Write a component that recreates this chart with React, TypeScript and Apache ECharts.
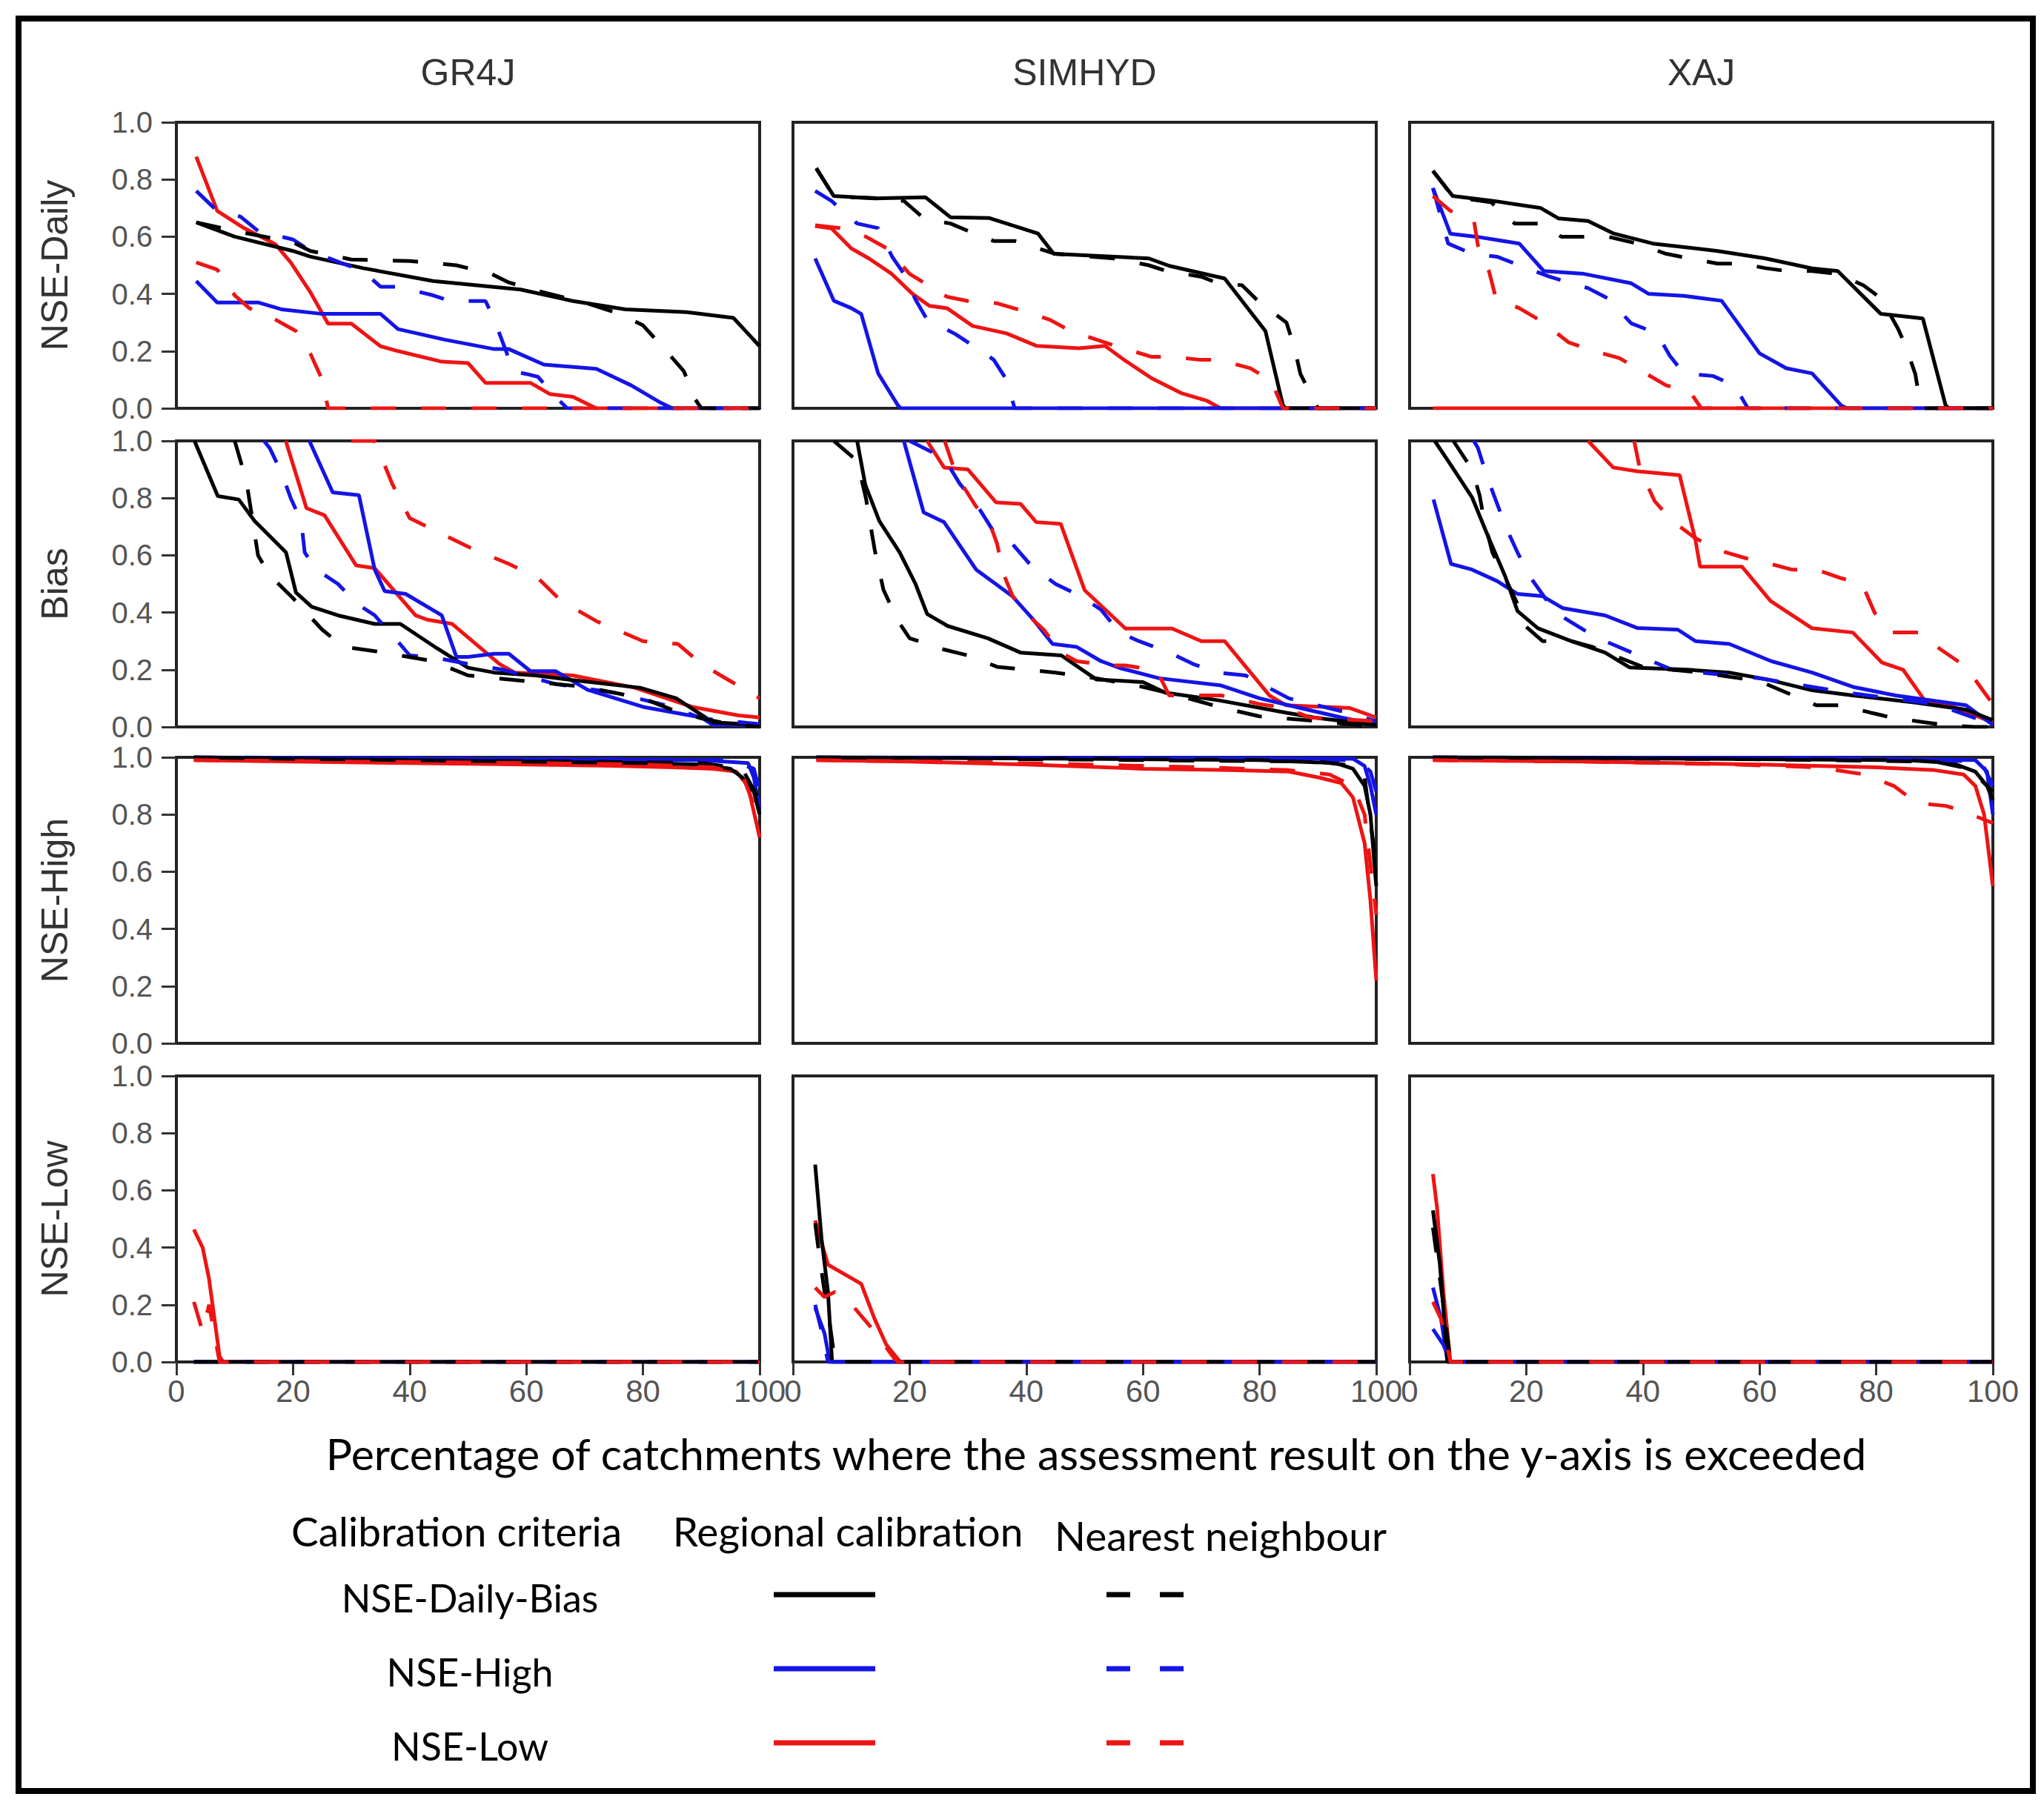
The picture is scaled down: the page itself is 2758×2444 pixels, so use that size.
import React, { useEffect, useRef } from "react";
import * as echarts from "echarts";

// ---------- text ----------
const columnTitles = ["GR4J", "SIMHYD", "XAJ"];
const rowTitles = ["NSE-Daily", "Bias", "NSE-High", "NSE-Low"];
const xAxisTitle = "Percentage of catchments where the assessment result on the y-axis is exceeded";
const legendHeaders = ["Calibration criteria", "Regional calibration", "Nearest neighbour"];
const legendCriteria = ["NSE-Daily-Bias", "NSE-High", "NSE-Low"];
const seriesColors = ["#000000", "#1414e6", "#ee1414"];
const xTickStep = 20;
const yTickStep = 0.2;

// ---------- data: [percentage of catchments, value] ----------
// Row 1: NSE-Daily
const gr4jDailyRcDB = [[3.4,0.65],[10,0.6],[20,0.55],[23,0.53],[32,0.49],[44,0.445],[59,0.415],[68,0.375],[77,0.346],[87.5,0.336],[95.5,0.316],[100,0.217]];
const gr4jDailyNnDB = [[3.4,0.65],[10,0.62],[20,0.58],[23,0.55],[30,0.52],[40,0.515],[48,0.5],[54,0.47],[57,0.44],[62,0.41],[70,0.37],[76,0.33],[80,0.29],[84,0.2],[87,0.13],[89,0.03],[90,0],[100,0]];
const gr4jDailyRcHi = [[3.4,0.445],[7,0.37],[14,0.37],[18,0.346],[25,0.33],[35,0.33],[38,0.277],[46,0.24],[54.5,0.207],[57,0.207],[63,0.153],[72,0.138],[78,0.08],[83,0.02],[85,0],[100,0]];
const gr4jDailyNnHi = [[3.4,0.76],[7,0.69],[11,0.67],[14,0.62],[20,0.59],[23,0.55],[28,0.51],[32,0.48],[35,0.425],[38,0.425],[44,0.395],[47,0.375],[53,0.375],[54.5,0.31],[56.7,0.19],[57.6,0.13],[60,0.12],[62,0.11],[65,0.04],[67,0],[100,0]];
const gr4jDailyRcLo = [[3.4,0.88],[7,0.69],[11.6,0.63],[17,0.573],[19.6,0.51],[23,0.405],[26,0.296],[30,0.296],[35,0.217],[38,0.2],[45.5,0.163],[50,0.158],[53,0.089],[60.7,0.089],[64,0.05],[68,0.04],[71,0.01],[72,0],[100,0]];
const gr4jDailyNnLo = [[3.4,0.51],[7,0.485],[10,0.395],[12.5,0.35],[17,0.31],[20.5,0.27],[23,0.19],[25,0.1],[26,0],[100,0]];

const simhydDailyRcDB = [[4,0.838],[7,0.742],[14,0.734],[22.7,0.738],[27,0.668],[33.7,0.665],[42,0.611],[44.7,0.54],[61,0.524],[64.5,0.498],[72,0.463],[74,0.454],[81,0.27],[84,0.01],[84.5,0],[100,0]];
const simhydDailyNnDB = [[4,0.84],[7,0.74],[14,0.735],[19,0.725],[22.7,0.66],[27,0.646],[30,0.62],[34.4,0.585],[38,0.585],[45,0.54],[55,0.524],[61,0.5],[64,0.48],[70,0.46],[72.5,0.44],[77,0.43],[80,0.37],[84.6,0.3],[86,0.21],[87,0.12],[89,0.04],[90,0],[100,0]];
const simhydDailyRcHi = [[3.8,0.524],[7,0.376],[10,0.35],[11.7,0.33],[14.6,0.122],[18,0.01],[18.5,0],[100,0]];
const simhydDailyNnHi = [[3.8,0.76],[6.6,0.725],[11,0.646],[14.6,0.63],[17,0.53],[19,0.47],[21,0.38],[23,0.31],[27.8,0.26],[30.8,0.22],[34.4,0.17],[36.6,0.1],[38,0],[100,0]];
const simhydDailyRcLo = [[3.8,0.637],[6.6,0.629],[10,0.559],[13,0.524],[16.8,0.472],[20.5,0.4],[23.4,0.358],[26.4,0.35],[30.8,0.288],[36.6,0.262],[41.8,0.218],[49,0.21],[53.5,0.218],[57,0.166],[61.5,0.105],[66.7,0.052],[71,0.026],[73.3,0],[100,0]];
const simhydDailyNnLo = [[3.8,0.64],[8,0.63],[12.5,0.6],[16,0.56],[20,0.47],[26.4,0.39],[30,0.375],[35,0.367],[39.5,0.34],[44,0.31],[47.6,0.27],[55,0.22],[61.5,0.18],[65.2,0.18],[69.6,0.17],[73,0.17],[78.4,0.14],[82,0.096],[84,0],[100,0]];

const xajDailyRcDB = [[4,0.83],[7.4,0.742],[14.4,0.725],[22.5,0.7],[25.5,0.664],[30.6,0.655],[35,0.611],[41.7,0.576],[52.8,0.55],[61,0.524],[69,0.489],[73.4,0.48],[80.8,0.33],[88,0.314],[91.9,0.01],[92.5,0],[100,0]];
const xajDailyNnDB = [[4,0.83],[7.4,0.74],[14,0.72],[18,0.646],[22.5,0.646],[26,0.6],[34,0.6],[39,0.576],[44,0.54],[48,0.524],[52.8,0.506],[57,0.506],[61,0.49],[64.6,0.48],[69,0.48],[73.4,0.47],[77.8,0.43],[80.8,0.385],[83.7,0.28],[85,0.22],[86.7,0.12],[87.4,0.035],[88,0],[100,0]];
const xajDailyRcHi = [[4,0.77],[7,0.61],[11.4,0.6],[18.8,0.576],[23,0.48],[29.9,0.47],[38,0.437],[41,0.4],[47,0.393],[53.5,0.376],[60,0.192],[64.6,0.14],[69,0.122],[74,0.01],[75,0],[100,0]];
const xajDailyNnHi = [[4,0.77],[6.6,0.576],[10.7,0.54],[15,0.53],[18.8,0.5],[24,0.46],[30.6,0.42],[34,0.384],[38,0.297],[42.4,0.262],[44.6,0.184],[47,0.122],[52,0.113],[55.7,0.08],[58,0],[100,0]];
const xajDailyRcLo = [[4,0],[100,0]];
const xajDailyNnLo = [[4,0.742],[7,0.69],[11,0.66],[11.7,0.57],[13.6,0.48],[14.8,0.384],[18.8,0.35],[22.5,0.306],[27.3,0.23],[31.7,0.2],[36,0.175],[39.8,0.13],[44,0.08],[48,0.06],[50,0],[100,0]];

// Row 2: Bias
const gr4jBiasRcDB = [[3.1,1],[7.1,0.807],[10.7,0.795],[13.4,0.72],[18.8,0.61],[20.5,0.47],[23.2,0.42],[27.7,0.39],[34,0.36],[38.4,0.36],[44.6,0.276],[50,0.207],[54.5,0.19],[61.6,0.18],[67.9,0.164],[79.5,0.137],[85.7,0.1],[92,0.016],[100,0.007]];
const gr4jBiasNnDB = [[10,1],[12,0.86],[14,0.6],[16,0.53],[20,0.45],[25,0.34],[28.6,0.28],[34,0.265],[44,0.23],[50,0.18],[60,0.16],[70,0.14],[80,0.1],[85,0.06],[90,0.03],[95,0.01],[100,0]];
const gr4jBiasRcHi = [[22.8,1],[26.8,0.82],[31.3,0.81],[34,0.55],[35.7,0.475],[39.3,0.465],[45.5,0.39],[48,0.245],[50,0.245],[54.5,0.256],[57,0.256],[60.7,0.195],[65,0.195],[70.5,0.13],[80,0.07],[90,0.033],[92,0.007],[100,0.007]];
const gr4jBiasNnHi = [[15,1],[16,0.975],[18,0.89],[19.6,0.8],[21.4,0.72],[22,0.61],[24,0.55],[27.7,0.5],[31,0.43],[34,0.39],[37.5,0.31],[40,0.25],[45,0.24],[50,0.22],[56,0.2],[65,0.15],[75,0.12],[85,0.07],[90,0.03],[100,0.01]];
const gr4jBiasRcLo = [[18.75,1],[22.3,0.765],[25.4,0.74],[30.8,0.565],[34,0.555],[41,0.39],[43,0.375],[47.3,0.36],[55.4,0.22],[58,0.19],[67.9,0.18],[78.6,0.137],[88.4,0.07],[96.4,0.04],[100,0.033]];
const gr4jBiasNnLo = [[30,1],[34,1],[37,0.85],[40,0.73],[45,0.68],[50,0.63],[57,0.57],[62,0.52],[66,0.44],[72,0.37],[80,0.3],[86,0.29],[90,0.22],[95,0.16],[100,0.1]];

const simhydBiasRcDB = [[11,1],[12.4,0.846],[14.8,0.72],[18.3,0.61],[21,0.5],[23,0.395],[26.5,0.353],[33.4,0.31],[39,0.26],[46,0.25],[52,0.166],[60,0.157],[63.8,0.12],[73,0.093],[84.5,0.05],[89.3,0.033],[96,0.016],[100,0.007]];
const simhydBiasNnDB = [[7,1],[11,0.93],[12.5,0.8],[14,0.62],[15.5,0.48],[18,0.37],[20,0.31],[26,0.27],[30,0.25],[35,0.21],[45,0.19],[52,0.17],[60,0.14],[66,0.11],[73,0.07],[80,0.037],[90,0.02],[100,0]];
const simhydBiasRcHi = [[19,1],[22.4,0.75],[25.9,0.716],[31.4,0.55],[37.6,0.457],[41,0.38],[44.5,0.29],[48.6,0.28],[52.8,0.23],[56,0.206],[62.8,0.17],[73.4,0.145],[80,0.1],[87,0.066],[94,0.033],[100,0.007]];
const simhydBiasNnHi = [[20,1],[25.9,0.94],[28.6,0.85],[31.4,0.78],[34.8,0.67],[37.6,0.64],[41,0.56],[45,0.5],[49.3,0.457],[52.8,0.41],[56,0.33],[59.3,0.3],[64.5,0.26],[68.6,0.22],[72.8,0.19],[77.6,0.18],[85,0.1],[95,0.05],[100,0.02]];
const simhydBiasRcLo = [[23,1],[25.9,0.907],[30,0.9],[34.8,0.785],[39,0.78],[41.7,0.716],[45.9,0.71],[50,0.478],[57,0.344],[65,0.344],[70,0.3],[74,0.3],[81.7,0.11],[84.5,0.076],[95.5,0.066],[100,0.033]];
const simhydBiasNnLo = [[26,1],[28,0.88],[31.4,0.77],[33.4,0.73],[35,0.64],[36,0.54],[37.6,0.46],[40.3,0.39],[43,0.34],[45.9,0.26],[48.6,0.23],[54,0.215],[57,0.215],[62.4,0.197],[64.5,0.11],[73.4,0.11],[80,0.08],[84.5,0.066],[88.6,0.033],[100,0.02]];

const xajBiasRcDB = [[4.3,1],[7.1,0.915],[10.7,0.803],[13.5,0.664],[16.4,0.526],[18.5,0.405],[22,0.345],[27.7,0.3],[33.5,0.26],[37.7,0.208],[47.7,0.2],[54.8,0.19],[62,0.163],[69,0.128],[76,0.11],[86.8,0.085],[95.4,0.06],[100,0.024]];
const xajBiasNnDB = [[7.5,1],[10.7,0.9],[12,0.81],[12.8,0.72],[14.2,0.61],[16.4,0.52],[18.5,0.43],[20,0.35],[22.8,0.3],[27.7,0.3],[31.3,0.28],[40,0.21],[50,0.19],[60,0.16],[69.7,0.076],[74,0.076],[79,0.05],[82.6,0.033],[88.3,0.016],[91.8,0.007],[96.8,0],[100,0]];
const xajBiasRcHi = [[4.1,0.795],[7.1,0.57],[10.7,0.55],[15,0.51],[18.5,0.465],[22.8,0.457],[26.3,0.415],[33.5,0.39],[39,0.346],[46,0.34],[49,0.3],[54.8,0.29],[62,0.23],[69,0.19],[76,0.14],[83.3,0.11],[95.4,0.076],[100,0.007]];
const xajBiasNnHi = [[11,1],[11.7,0.976],[13.2,0.88],[15,0.78],[16.7,0.69],[18.5,0.61],[20.6,0.526],[25,0.4],[30.6,0.33],[33.5,0.3],[45,0.2],[60,0.17],[75,0.12],[90,0.08],[100,0.01]];
const xajBiasRcLo = [[30.6,1],[34.9,0.907],[39,0.894],[46.3,0.88],[49,0.654],[49.8,0.56],[57,0.56],[61.9,0.44],[69,0.345],[76,0.33],[81,0.225],[84.6,0.2],[88.3,0.093],[92.5,0.076],[100,0.016]];
const xajBiasNnLo = [[38.5,1],[39.5,0.9],[42,0.79],[45,0.72],[49,0.66],[52.7,0.62],[57.6,0.59],[61,0.575],[65.5,0.55],[69.7,0.55],[74,0.52],[77.6,0.5],[79.7,0.4],[82.6,0.33],[87.5,0.33],[90.4,0.28],[95.4,0.21],[98.2,0.13],[100,0.08]];

// Row 3: NSE-High
const gr4jHighRcDB = [[3,1],[20,0.995],[40,0.99],[60,0.985],[80,0.98],[90,0.975],[95,0.96],[97,0.93],[99,0.88],[100,0.8]];
const gr4jHighNnDB = [[3,1],[40,0.99],[70,0.985],[90,0.98],[97,0.96],[100,0.85]];
const gr4jHighRcHi = [[3,1],[50,0.995],[90,0.99],[98,0.98],[99,0.93],[100,0.82]];
const gr4jHighNnHi = [[3,1],[60,0.995],[95,0.99],[99,0.96],[100,0.88]];
const gr4jHighRcLo = [[3,0.99],[20,0.985],[40,0.98],[60,0.975],[75,0.97],[85,0.965],[92,0.96],[96,0.95],[98,0.9],[100,0.72]];
const gr4jHighNnLo = [[3,0.99],[30,0.985],[60,0.98],[80,0.975],[92,0.965],[97,0.94],[100,0.78]];

const simhydHighRcDB = [[4,1],[50,0.995],[80,0.99],[93,0.98],[96,0.96],[98,0.9],[99,0.8],[100,0.55]];
const simhydHighNnDB = [[4,1],[60,0.99],[90,0.985],[96,0.97],[98,0.93],[100,0.62]];
const simhydHighRcHi = [[4,1],[60,0.998],[96,0.995],[98,0.97],[99,0.9],[100,0.8]];
const simhydHighNnHi = [[4,1],[70,0.995],[97,0.99],[99,0.95],[100,0.88]];
const simhydHighRcLo = [[4,0.99],[20,0.985],[40,0.975],[60,0.96],[75,0.955],[85,0.95],[90,0.93],[94,0.91],[96,0.86],[98,0.7],[99,0.5],[100,0.22]];
const simhydHighNnLo = [[4,0.99],[25,0.985],[50,0.975],[70,0.965],[85,0.955],[92,0.94],[96,0.9],[98,0.8],[100,0.45]];

const xajHighRcDB = [[4,1],[50,0.995],[85,0.99],[93,0.98],[97,0.95],[99,0.9],[100,0.85]];
const xajHighNnDB = [[4,1],[60,0.993],[90,0.985],[96,0.96],[100,0.88]];
const xajHighRcHi = [[4,1],[70,0.998],[97,0.99],[99,0.95],[100,0.8]];
const xajHighNnHi = [[4,1],[80,0.995],[98,0.985],[100,0.9]];
const xajHighRcLo = [[4,0.99],[30,0.985],[60,0.975],[80,0.965],[90,0.955],[95,0.94],[97,0.9],[98.5,0.8],[100,0.55]];
const xajHighNnLo = [[4,0.99],[30,0.985],[55,0.975],[70,0.965],[78,0.94],[83,0.9],[87,0.84],[92,0.83],[95,0.81],[100,0.77]];

// Row 4: NSE-Low
const gr4jLowRcDB = [[3,0],[100,0]];
const gr4jLowNnDB = [[3,0],[100,0]];
const gr4jLowRcHi = [[3,0],[100,0]];
const gr4jLowNnHi = [[3,0],[100,0]];
const gr4jLowRcLo = [[3,0.463],[4.5,0.4],[5.6,0.29],[7.4,0.02],[8,0],[100,0]];
const gr4jLowNnLo = [[3,0.21],[4.5,0.106],[5.6,0.2],[7.4,0],[100,0]];

const simhydLowRcDB = [[3.8,0.69],[4.9,0.43],[6,0.245],[6.7,0],[100,0]];
const simhydLowNnDB = [[3.8,0.485],[4.4,0.39],[5.3,0.26],[6.2,0.15],[7.2,0],[100,0]];
const simhydLowRcHi = [[3.8,0.19],[5.4,0.1],[6.3,0],[100,0]];
const simhydLowNnHi = [[3.8,0.2],[5,0.1],[6,0],[100,0]];
const simhydLowRcLo = [[3.8,0.495],[6,0.34],[9.4,0.3],[11.7,0.273],[14,0.15],[16,0.06],[18.4,0],[100,0]];
const simhydLowNnLo = [[3.8,0.26],[5.4,0.227],[7.2,0.245],[10.5,0.19],[14,0.106],[17.3,0.014],[18,0],[100,0]];

const xajLowRcDB = [[4,0.53],[5.2,0.34],[6.5,0],[100,0]];
const xajLowNnDB = [[4,0.47],[5.8,0.2],[7,0],[100,0]];
const xajLowRcHi = [[4,0.26],[5.4,0.15],[6.5,0],[100,0]];
const xajLowNnHi = [[4,0.115],[5.8,0.06],[7,0],[100,0]];
const xajLowRcLo = [[4,0.657],[4.7,0.54],[5.8,0.245],[7,0],[100,0]];
const xajLowNnLo = [[4,0.21],[5.4,0.15],[6.5,0.05],[7,0],[100,0]];

// panels[row][col] = [RC-DB, NN-DB, RC-High, NN-High, RC-Low, NN-Low]
const panels = [
  [
    [gr4jDailyRcDB, gr4jDailyNnDB, gr4jDailyRcHi, gr4jDailyNnHi, gr4jDailyRcLo, gr4jDailyNnLo],
    [simhydDailyRcDB, simhydDailyNnDB, simhydDailyRcHi, simhydDailyNnHi, simhydDailyRcLo, simhydDailyNnLo],
    [xajDailyRcDB, xajDailyNnDB, xajDailyRcHi, xajDailyNnHi, xajDailyRcLo, xajDailyNnLo],
  ],
  [
    [gr4jBiasRcDB, gr4jBiasNnDB, gr4jBiasRcHi, gr4jBiasNnHi, gr4jBiasRcLo, gr4jBiasNnLo],
    [simhydBiasRcDB, simhydBiasNnDB, simhydBiasRcHi, simhydBiasNnHi, simhydBiasRcLo, simhydBiasNnLo],
    [xajBiasRcDB, xajBiasNnDB, xajBiasRcHi, xajBiasNnHi, xajBiasRcLo, xajBiasNnLo],
  ],
  [
    [gr4jHighRcDB, gr4jHighNnDB, gr4jHighRcHi, gr4jHighNnHi, gr4jHighRcLo, gr4jHighNnLo],
    [simhydHighRcDB, simhydHighNnDB, simhydHighRcHi, simhydHighNnHi, simhydHighRcLo, simhydHighNnLo],
    [xajHighRcDB, xajHighNnDB, xajHighRcHi, xajHighNnHi, xajHighRcLo, xajHighNnLo],
  ],
  [
    [gr4jLowRcDB, gr4jLowNnDB, gr4jLowRcHi, gr4jLowNnHi, gr4jLowRcLo, gr4jLowNnLo],
    [simhydLowRcDB, simhydLowNnDB, simhydLowRcHi, simhydLowNnHi, simhydLowRcLo, simhydLowNnLo],
    [xajLowRcDB, xajLowNnDB, xajLowRcHi, xajLowNnHi, xajLowRcLo, xajLowNnLo],
  ],
];

// ---------- layout ----------
const W = 2758;
const H = 2444;
const colLeft = [238, 1070, 1902];
const colW = 787;
const rowTop = [165, 595, 1022, 1452];
const rowH = 386;
const DASH = [34, 34];
const tickFont = "Liberation Sans";
const textFont = "Lato";
// drawing order (bottom to top) of the six lines in each panel
const drawOrder = [4, 2, 0, 3, 1, 5];

function buildOption() {
  const grid: any[] = [];
  const xAxis: any[] = [];
  const yAxis: any[] = [];
  const series: any[] = [];
  const graphic: any[] = [];

  for (let r = 0; r < 4; r++) {
    for (let c = 0; c < 3; c++) {
      const i = r * 3 + c;
      grid.push({
        left: colLeft[c], top: rowTop[r], width: colW, height: rowH,
        show: true, borderColor: "#222222", borderWidth: 4, backgroundColor: "#ffffff",
        containLabel: false,
      });
      xAxis.push({
        gridIndex: i, type: "value", min: 0, max: 100, interval: xTickStep,
        axisLine: { show: false }, splitLine: { show: false },
        axisTick: { show: r === 3, length: 18, lineStyle: { color: "#333333", width: 3 } },
        axisLabel: { show: r === 3, fontSize: 42, color: "#555555", fontFamily: tickFont, margin: 18 },
      });
      yAxis.push({
        gridIndex: i, type: "value", min: 0, max: 1, interval: yTickStep,
        axisLine: { show: false }, splitLine: { show: false },
        axisTick: { show: c === 0, length: 20, lineStyle: { color: "#333333", width: 3 } },
        axisLabel: {
          show: c === 0, fontSize: 40, lineHeight: 34, color: "#555555", fontFamily: tickFont, margin: 32,
          formatter: (v: number) => v.toFixed(1),
        },
      });
      const lines = panels[r][c];
      drawOrder.forEach((k, pos) => {
        const color = seriesColors[Math.floor(k / 2)];
        const dashed = k % 2 === 1;
        series.push({
          type: "line", xAxisIndex: i, yAxisIndex: i, data: lines[k],
          symbol: "none", showSymbol: false, clip: true, silent: true,
          lineStyle: { color, width: 5, type: dashed ? DASH : "solid", cap: "butt" },
          z: 2 + pos,
        });
      });
    }
  }

  // outer frame
  graphic.push({
    type: "rect", shape: { x: 25, y: 25, width: 2718, height: 2392 },
    style: { fill: "none", stroke: "#000000", lineWidth: 8 }, z: 100,
  });
  // column titles
  columnTitles.forEach((t, c) => {
    graphic.push({
      type: "text", x: colLeft[c] + colW / 2, y: 98,
      style: { text: t, fontSize: 50, fontFamily: tickFont, fill: "#333333", align: "center", verticalAlign: "middle" },
    });
  });
  // row titles
  rowTitles.forEach((t, r) => {
    graphic.push({
      type: "text", x: 74, y: rowTop[r] + rowH / 2, rotation: Math.PI / 2,
      style: { text: t, fontSize: 50, fontFamily: tickFont, fill: "#333333", align: "center", verticalAlign: "middle" },
    });
  });
  // x axis title
  graphic.push({
    type: "text", x: 1479, y: 1961,
    style: { text: xAxisTitle, fontSize: 59, fontFamily: textFont, fill: "#000000", align: "center", verticalAlign: "middle" },
  });
  // legend headers
  const headerX = [616, 1144, 1647];
  const headerY = [2066, 2066, 2072];
  legendHeaders.forEach((t, j) => {
    graphic.push({
      type: "text", x: headerX[j], y: headerY[j],
      style: { text: t, fontSize: 55, fontFamily: textFont, fill: "#000000", align: "center", verticalAlign: "middle" },
    });
  });
  const rowY = [2152, 2252, 2352];
  legendCriteria.forEach((t, j) => {
    graphic.push({
      type: "text", x: 634, y: rowY[j] + 4,
      style: { text: t, fontSize: 52, fontFamily: textFont, fill: "#000000", align: "center", verticalAlign: "middle" },
    });
    graphic.push({
      type: "line", shape: { x1: 1044, y1: rowY[j], x2: 1181, y2: rowY[j] },
      style: { stroke: seriesColors[j], lineWidth: 7 },
    });
    graphic.push({
      type: "line", shape: { x1: 1493, y1: rowY[j], x2: 1597, y2: rowY[j] },
      style: { stroke: seriesColors[j], lineWidth: 7, lineDash: [32, 40] },
    });
  });

  return {
    animation: false,
    backgroundColor: "#ffffff",
    grid, xAxis, yAxis, series, graphic,
  };
}

export default function App() {
  const ref = useRef<HTMLDivElement>(null);
  useEffect(() => {
    if (!ref.current) return;
    const chart = echarts.init(ref.current, null, { renderer: "svg" });
    chart.setOption(buildOption() as any);
    return () => chart.dispose();
  }, []);
  return (
    <div
      ref={ref}
      style={{ position: "absolute", left: 0, top: 0, width: W, height: H, background: "#ffffff" }}
    />
  );
}
